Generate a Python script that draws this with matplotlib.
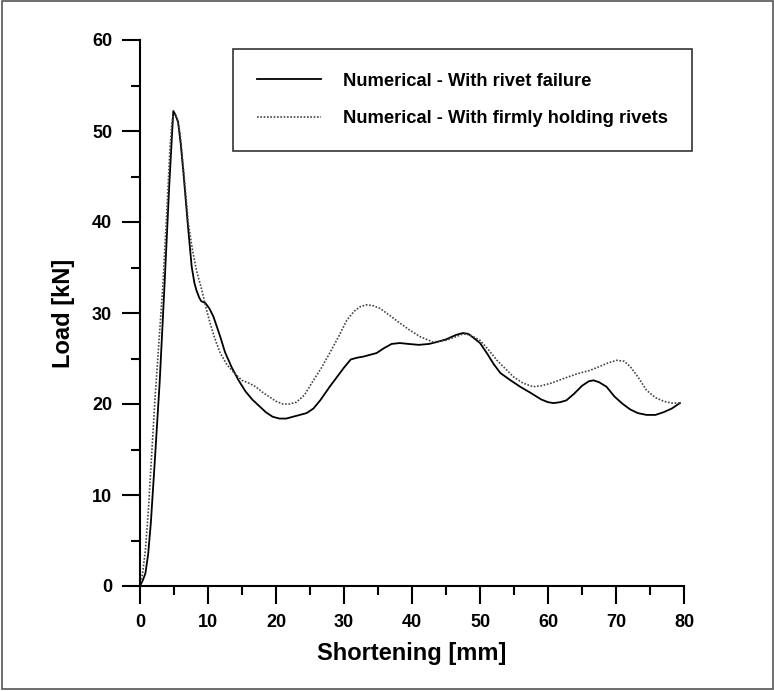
import numpy as np
import matplotlib
matplotlib.use('Agg')
import matplotlib.pyplot as plt
from matplotlib.patches import Rectangle
from matplotlib.ticker import MultipleLocator

plt.rcParams['font.family'] = ['Liberation Sans', 'DejaVu Sans']

# curve: shortening [mm], load [kN]
failX = [0, 0.4, 0.8, 1.2, 1.6, 2.2, 2.9, 3.6, 4.3, 4.7, 4.9, 5.2, 5.6, 6.0, 6.4, 7.0, 7.6, 8.0, 8.3, 8.7, 9.0,
         9.6, 10.2, 10.8, 11.8, 12.5, 13.5, 14.5, 15.5, 16.5, 17.5, 18.5, 19.5, 20.5, 21.5, 22.5, 23.5, 24.5,
         25.5, 26.5, 27.9, 29.0, 30.0, 31.0, 32.0, 32.8, 33.8, 34.8, 35.8, 37.0, 38.2, 39.5, 41.0, 42.5, 43.6,
         45.0, 46.5, 47.5, 48.3, 49.0, 50.0, 51.0, 52.0, 53.0, 54.5, 55.9, 57.5, 59.0, 60.0, 60.8, 61.8, 62.7,
         63.8, 65.0, 66.0, 66.7, 67.5, 68.6, 69.8, 71.0, 72.1, 73.2, 74.5, 75.8, 77.0, 78.2, 79.4]
failY = [0, 0.6, 1.4, 3.5, 7.0, 14.0, 22.5, 33.0, 44.0, 49.5, 52.2, 51.8, 51.0, 48.5, 45.3, 40.0, 35.1, 33.3, 32.5,
         31.7, 31.3, 31.1, 30.5, 29.6, 27.4, 25.7, 24.0, 22.6, 21.4, 20.5, 19.8, 19.1, 18.6, 18.4, 18.4, 18.6,
         18.8, 19.0, 19.5, 20.4, 21.9, 23.0, 24.0, 24.9, 25.1, 25.2, 25.4, 25.6, 26.1, 26.6, 26.7, 26.6, 26.5,
         26.6, 26.8, 27.1, 27.6, 27.8, 27.7, 27.3, 26.7, 25.6, 24.4, 23.4, 22.6, 21.9, 21.2, 20.5, 20.2, 20.1,
         20.2, 20.4, 21.1, 22.0, 22.5, 22.6, 22.4, 21.9, 20.8, 20.0, 19.4, 19.0, 18.8, 18.8, 19.1, 19.5, 20.1]

holdX = [0, 0.4, 0.8, 1.2, 1.6, 2.2, 2.8, 3.4, 4.0, 4.4, 4.7, 4.9, 5.2, 5.5, 5.9, 6.5, 7.1, 7.7, 8.3, 9.1, 9.7,
         10.3, 11.0, 11.8, 12.8, 14.0, 15.0, 16.0, 17.0, 18.0, 19.0, 20.0, 21.0, 22.0, 23.0, 24.2, 25.5, 26.7,
         27.9, 29.2, 30.4, 31.5, 32.4, 33.3, 34.3, 35.3, 36.6, 38.2, 39.7, 41.2, 43.1, 45.0, 46.5, 47.5, 48.5,
         50.0, 51.2, 52.5, 53.7, 54.9, 56.3, 57.8, 59.0, 60.5, 62.3, 64.2, 66.2, 67.5, 68.8, 70.1, 71.2, 72.1,
         73.2, 74.5, 75.8, 77.0, 78.2, 79.4]
holdY = [0, 1.5, 4.0, 8.0, 13.0, 20.5, 27.0, 33.5, 42.0, 48.0, 51.0, 51.8, 51.8, 51.2, 49.7, 45.0, 39.9, 37.0,
         34.7, 32.5, 30.6, 28.9, 27.2, 25.6, 24.3, 23.3, 22.6, 22.3, 21.9, 21.3, 20.8, 20.3, 20.0, 20.0, 20.2,
         21.0, 22.6, 24.0, 25.6, 27.4, 29.2, 30.2, 30.7, 30.9, 30.8, 30.5, 29.8, 28.9, 28.1, 27.4, 26.8, 27.0,
         27.4, 27.7, 27.6, 27.0, 26.0, 24.8, 23.9, 23.0, 22.3, 21.9, 22.0, 22.3, 22.8, 23.3, 23.7, 24.1, 24.5,
         24.8, 24.7, 24.1, 23.0, 21.5, 20.7, 20.3, 20.1, 20.1]

labels = ['Numerical - With rivet failure', 'Numerical - With firmly holding rivets']

fig = plt.figure(figsize=(7.74, 6.91), dpi=100)
ax = fig.add_axes([140 / 774, 1 - 586 / 691, 544 / 774, 546 / 691])

ax.plot(failX, failY, color='black', lw=1.3, label=labels[0])
ax.plot(holdX, holdY, color='#444444', lw=1.2, linestyle=(0, (1, 1)), label=labels[1])

ax.set_xlim(0, 80)
ax.set_ylim(0, 60)
ax.xaxis.set_major_locator(MultipleLocator(10))
ax.xaxis.set_minor_locator(MultipleLocator(5))
ax.yaxis.set_major_locator(MultipleLocator(10))
ax.yaxis.set_minor_locator(MultipleLocator(5))
ax.spines['top'].set_visible(False)
ax.spines['right'].set_visible(False)
for s in ['left', 'bottom']:
    ax.spines[s].set_linewidth(1.5)
ax.tick_params(which='major', length=13, width=1.5, direction='out', pad=7, labelsize=13)
ax.tick_params(which='minor', length=6.5, width=1.5, direction='out')
for lab in ax.get_xticklabels() + ax.get_yticklabels():
    lab.set_fontweight('bold')

ax.set_xlabel('Shortening [mm]', fontsize=17, fontweight='bold', labelpad=8)
ax.set_ylabel('Load [kN]', fontsize=17, fontweight='bold', labelpad=12)

leg = ax.legend(loc='upper left', bbox_to_anchor=((233 - 140) / 544, (586 - 49) / 546),
                prop={'weight': 'bold', 'size': 13.2}, frameon=True, fancybox=False,
                handlelength=3.5, handletextpad=1.2, borderpad=1.3, labelspacing=1.12, borderaxespad=0)
leg.get_frame().set_edgecolor('black')
leg.get_frame().set_linewidth(1.2)

fig.patches.append(Rectangle((2 / 774, 2 / 691), 771 / 774, 688 / 691, transform=fig.transFigure,
                             fill=False, edgecolor='#555555', lw=1.2))

fig.savefig('out.png', dpi=100)
